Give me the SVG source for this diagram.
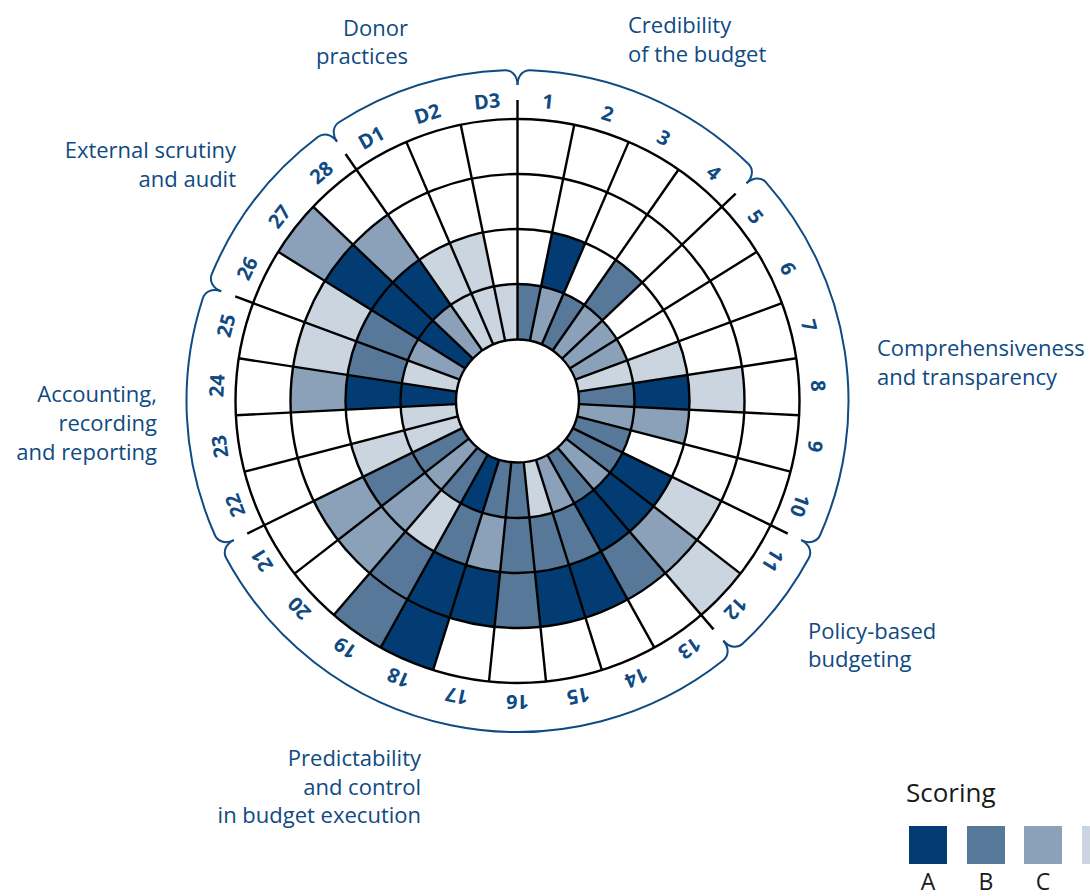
<svg xmlns="http://www.w3.org/2000/svg" xmlns:xlink="http://www.w3.org/1999/xlink" width="1090" height="896" viewBox="0 0 1090 896">
<style>
.a{fill:#023c72}.b{fill:#587899}.c{fill:#8aa1b9}.d{fill:#cad5e0}
.ring{fill:none;stroke:#000;stroke-width:2.4}
.sp{stroke:#000;stroke-width:2.4}
.num{font-family:"Open Sans",sans-serif;font-weight:700;font-size:20px;fill:#0f4a82;text-anchor:middle}
.grp{font-family:"Open Sans",sans-serif;font-size:22px;fill:#0f4a82}
.br{fill:none;stroke:#0f4a82;stroke-width:2}
.leg{font-family:"Open Sans",sans-serif;font-size:26px;fill:#1a1a1a}
.legl{font-family:"Open Sans",sans-serif;font-size:23px;fill:#1a1a1a;text-anchor:middle}
</style>
<defs>
<path id="r1" d="M0,-117 A117,117 0 0 1 23.547,-114.606 L12.377,-60.242 A61.5,61.5 0 0 0 0,-61.5 Z"/>
<path id="r2" d="M0,-172 A172,172 0 0 1 34.617,-168.481 L23.547,-114.606 A117,117 0 0 0 0,-117 Z"/>
<path id="r3" d="M0,-227 A227,227 0 0 1 45.686,-222.356 L34.617,-168.481 A172,172 0 0 0 0,-172 Z"/>
<path id="r4" d="M0,-282 A282,282 0 0 1 56.755,-276.230 L45.686,-222.356 A227,227 0 0 0 0,-227 Z"/>
<line id="sp" class="sp" x1="0" y1="-61.5" x2="0" y2="-282"/>
<line id="spl" class="sp" x1="0" y1="-61.5" x2="0" y2="-301"/>
</defs>
<g id="chart" transform="translate(517.5,401)">
<g id="cells">
<use href="#r1" class="b" transform="rotate(0)"/>
<use href="#r1" class="c" transform="rotate(11.6129)"/><use href="#r2" class="a" transform="rotate(11.6129)"/>
<use href="#r1" class="b" transform="rotate(23.2258)"/>
<use href="#r1" class="c" transform="rotate(34.8387)"/><use href="#r2" class="b" transform="rotate(34.8387)"/>
<use href="#r1" class="c" transform="rotate(46.4516)"/>
<use href="#r1" class="c" transform="rotate(58.0645)"/>
<use href="#r1" class="d" transform="rotate(69.6774)"/><use href="#r2" class="d" transform="rotate(69.6774)"/>
<use href="#r1" class="b" transform="rotate(81.2903)"/><use href="#r2" class="a" transform="rotate(81.2903)"/><use href="#r3" class="d" transform="rotate(81.2903)"/>
<use href="#r1" class="c" transform="rotate(92.9032)"/><use href="#r2" class="c" transform="rotate(92.9032)"/>
<use href="#r1" class="b" transform="rotate(104.5161)"/>
<use href="#r1" class="b" transform="rotate(116.1290)"/><use href="#r2" class="a" transform="rotate(116.1290)"/><use href="#r3" class="d" transform="rotate(116.1290)"/>
<use href="#r1" class="c" transform="rotate(127.7419)"/><use href="#r2" class="a" transform="rotate(127.7419)"/><use href="#r3" class="c" transform="rotate(127.7419)"/><use href="#r4" class="d" transform="rotate(127.7419)"/>
<use href="#r1" class="b" transform="rotate(139.3548)"/><use href="#r2" class="a" transform="rotate(139.3548)"/><use href="#r3" class="b" transform="rotate(139.3548)"/>
<use href="#r1" class="c" transform="rotate(150.9677)"/><use href="#r2" class="b" transform="rotate(150.9677)"/><use href="#r3" class="a" transform="rotate(150.9677)"/>
<use href="#r1" class="d" transform="rotate(162.5806)"/><use href="#r2" class="b" transform="rotate(162.5806)"/><use href="#r3" class="a" transform="rotate(162.5806)"/>
<use href="#r1" class="b" transform="rotate(174.1935)"/><use href="#r2" class="b" transform="rotate(174.1935)"/><use href="#r3" class="b" transform="rotate(174.1935)"/>
<use href="#r1" class="b" transform="rotate(185.8065)"/><use href="#r2" class="c" transform="rotate(185.8065)"/><use href="#r3" class="a" transform="rotate(185.8065)"/>
<use href="#r1" class="a" transform="rotate(197.4194)"/><use href="#r2" class="b" transform="rotate(197.4194)"/><use href="#r3" class="a" transform="rotate(197.4194)"/><use href="#r4" class="a" transform="rotate(197.4194)"/>
<use href="#r1" class="b" transform="rotate(209.0323)"/><use href="#r2" class="d" transform="rotate(209.0323)"/><use href="#r3" class="b" transform="rotate(209.0323)"/><use href="#r4" class="b" transform="rotate(209.0323)"/>
<use href="#r1" class="c" transform="rotate(220.6452)"/><use href="#r2" class="c" transform="rotate(220.6452)"/><use href="#r3" class="c" transform="rotate(220.6452)"/>
<use href="#r1" class="b" transform="rotate(232.2581)"/><use href="#r2" class="b" transform="rotate(232.2581)"/><use href="#r3" class="c" transform="rotate(232.2581)"/>
<use href="#r1" class="d" transform="rotate(243.8710)"/><use href="#r2" class="d" transform="rotate(243.8710)"/>
<use href="#r1" class="d" transform="rotate(255.4839)"/>
<use href="#r1" class="a" transform="rotate(267.0968)"/><use href="#r2" class="a" transform="rotate(267.0968)"/><use href="#r3" class="c" transform="rotate(267.0968)"/>
<use href="#r1" class="d" transform="rotate(278.7097)"/><use href="#r2" class="b" transform="rotate(278.7097)"/><use href="#r3" class="d" transform="rotate(278.7097)"/>
<use href="#r1" class="c" transform="rotate(290.3226)"/><use href="#r2" class="b" transform="rotate(290.3226)"/><use href="#r3" class="d" transform="rotate(290.3226)"/>
<use href="#r1" class="a" transform="rotate(301.9355)"/><use href="#r2" class="a" transform="rotate(301.9355)"/><use href="#r3" class="a" transform="rotate(301.9355)"/><use href="#r4" class="c" transform="rotate(301.9355)"/>
<use href="#r1" class="c" transform="rotate(313.5484)"/><use href="#r2" class="a" transform="rotate(313.5484)"/><use href="#r3" class="c" transform="rotate(313.5484)"/>
<use href="#r1" class="d" transform="rotate(325.1613)"/><use href="#r2" class="d" transform="rotate(325.1613)"/>
<use href="#r1" class="d" transform="rotate(336.7742)"/><use href="#r2" class="d" transform="rotate(336.7742)"/>
<use href="#r1" class="d" transform="rotate(348.3871)"/>
</g>
<g id="grid">
<circle class="ring" r="117"/><circle class="ring" r="172"/><circle class="ring" r="227"/><circle class="ring" r="282"/>
<use href="#spl" transform="rotate(0)"/><use href="#sp" transform="rotate(11.6129)"/><use href="#sp" transform="rotate(23.2258)"/><use href="#sp" transform="rotate(34.8387)"/>
<use href="#spl" transform="rotate(46.4516)"/><use href="#sp" transform="rotate(58.0645)"/><use href="#sp" transform="rotate(69.6774)"/><use href="#sp" transform="rotate(81.2903)"/>
<use href="#sp" transform="rotate(92.9032)"/><use href="#sp" transform="rotate(104.5161)"/><use href="#spl" transform="rotate(116.1290)"/><use href="#sp" transform="rotate(127.7419)"/>
<use href="#spl" transform="rotate(139.3548)"/><use href="#sp" transform="rotate(150.9677)"/><use href="#sp" transform="rotate(162.5806)"/><use href="#sp" transform="rotate(174.1935)"/>
<use href="#sp" transform="rotate(185.8065)"/><use href="#sp" transform="rotate(197.4194)"/><use href="#sp" transform="rotate(209.0323)"/><use href="#sp" transform="rotate(220.6452)"/>
<use href="#sp" transform="rotate(232.2581)"/><use href="#spl" transform="rotate(243.8710)"/><use href="#sp" transform="rotate(255.4839)"/><use href="#sp" transform="rotate(267.0968)"/>
<use href="#sp" transform="rotate(278.7097)"/><use href="#spl" transform="rotate(290.3226)"/><use href="#sp" transform="rotate(301.9355)"/><use href="#sp" transform="rotate(313.5484)"/>
<use href="#spl" transform="rotate(325.1613)"/><use href="#sp" transform="rotate(336.7742)"/><use href="#sp" transform="rotate(348.3871)"/>
<circle r="61.5" fill="#fff" stroke="#000" stroke-width="2.4"/>
</g>
<g id="numbers">
<text class="num" y="-294" transform="rotate(5.806)">1</text>
<text class="num" y="-294" transform="rotate(17.419)">2</text>
<text class="num" y="-294" transform="rotate(29.032)">3</text>
<text class="num" y="-294" transform="rotate(40.645)">4</text>
<text class="num" y="-294" transform="rotate(52.258)">5</text>
<text class="num" y="-294" transform="rotate(63.871)">6</text>
<text class="num" y="-294" transform="rotate(75.484)">7</text>
<text class="num" y="-294" transform="rotate(87.097)">8</text>
<text class="num" y="-294" transform="rotate(98.710)">9</text>
<text class="num" y="-294" transform="rotate(110.323)">10</text>
<text class="num" y="-294" transform="rotate(121.935)">11</text>
<text class="num" y="-294" transform="rotate(133.548)">12</text>
<text class="num" y="-294" transform="rotate(145.161)">13</text>
<text class="num" y="-294" transform="rotate(156.774)">14</text>
<text class="num" y="-294" transform="rotate(168.387)">15</text>
<text class="num" y="-294" transform="rotate(180)">16</text>
<text class="num" y="-294" transform="rotate(191.613)">17</text>
<text class="num" y="-294" transform="rotate(203.226)">18</text>
<text class="num" y="-294" transform="rotate(214.839)">19</text>
<text class="num" y="-294" transform="rotate(226.452)">20</text>
<text class="num" y="-294" transform="rotate(238.065)">21</text>
<text class="num" y="-294" transform="rotate(249.677)">22</text>
<text class="num" y="-294" transform="rotate(261.290)">23</text>
<text class="num" y="-294" transform="rotate(272.903)">24</text>
<text class="num" y="-294" transform="rotate(284.516)">25</text>
<text class="num" y="-294" transform="rotate(296.129)">26</text>
<text class="num" y="-294" transform="rotate(307.742)">27</text>
<text class="num" y="-294" transform="rotate(319.355)">28</text>
<text class="num" y="-294" transform="rotate(330.968)">D1</text>
<text class="num" y="-294" transform="rotate(342.581)">D2</text>
<text class="num" y="-294" transform="rotate(354.194)">D3</text>
</g>
<g id="brackets">
<path id="br-cred" class="br" transform="rotate(0)" d="M0,-316 C0,-326 6.354,-330.939 12.707,-330.755 A331,331 0 0 1 230.98,-237.09 C235.49,-232.61 236.28,-224.60 229.03,-217.71"/>
<path id="br-comp" class="br" transform="rotate(46.4516)" d="M0,-316 C0,-326 6.354,-330.939 12.707,-330.755 A331,331 0 0 1 305.75,-126.79 C308.13,-120.89 305.71,-113.22 296.33,-109.74"/>
<path id="br-pol" class="br" transform="rotate(116.1290)" d="M0,-316 C0,-326 6.354,-330.939 12.707,-330.755 A331,331 0 0 1 118.76,-308.96 C124.67,-306.63 128.56,-299.58 124.62,-290.39"/>
<path id="br-pred" class="br" transform="rotate(139.3548)" d="M0,-316 C0,-326 6.354,-330.939 12.707,-330.755 A331,331 0 0 1 323.38,70.61 C321.97,76.80 315.59,81.71 305.91,79.21"/>
<path id="br-acc" class="br" transform="rotate(243.8710)" d="M0,-316 C0,-326 6.354,-330.939 12.707,-330.755 A331,331 0 0 1 230.98,-237.09 C235.49,-232.61 236.28,-224.60 229.03,-217.71"/>
<path id="br-ext" class="br" transform="rotate(290.3226)" d="M0,-316 C0,-326 6.354,-330.939 12.707,-330.755 A331,331 0 0 1 178.52,-278.73 C183.84,-275.25 186.24,-267.56 180.53,-259.36"/>
<path id="br-don" class="br" transform="rotate(325.1613)" d="M0,-316 C0,-326 6.354,-330.939 12.707,-330.755 A331,331 0 0 1 178.52,-278.73 C183.84,-275.25 186.24,-267.56 180.53,-259.36"/>
</g>
</g>
<g id="group-labels">
<g id="lbl-donor"><text class="grp" x="408" y="36" text-anchor="end">Donor</text><text class="grp" x="408" y="64" text-anchor="end">practices</text></g>
<g id="lbl-cred"><text class="grp" x="628" y="33">Credibility</text><text class="grp" x="628" y="62">of the budget</text></g>
<g id="lbl-comp"><text class="grp" x="877" y="356">Comprehensiveness</text><text class="grp" x="877" y="385">and transparency</text></g>
<g id="lbl-pol"><text class="grp" x="808" y="639">Policy-based</text><text class="grp" x="808" y="667">budgeting</text></g>
<g id="lbl-pred"><text class="grp" x="421" y="766" text-anchor="end">Predictability</text><text class="grp" x="421" y="795" text-anchor="end">and control</text><text class="grp" x="421" y="823" text-anchor="end">in budget execution</text></g>
<g id="lbl-acc"><text class="grp" x="157" y="402" text-anchor="end">Accounting,</text><text class="grp" x="157" y="431" text-anchor="end">recording</text><text class="grp" x="157" y="460" text-anchor="end">and reporting</text></g>
<g id="lbl-ext"><text class="grp" x="236" y="158" text-anchor="end">External scrutiny</text><text class="grp" x="236" y="187" text-anchor="end">and audit</text></g>
</g>
<g id="legend">
<text class="leg" x="906" y="802">Scoring</text>
<rect class="a" x="909" y="826" width="38" height="38"/>
<rect class="b" x="967" y="826" width="38" height="38"/>
<rect class="c" x="1024" y="826" width="38" height="38"/>
<rect class="d" x="1082" y="826" width="38" height="38"/>
<text class="legl" x="928" y="890">A</text>
<text class="legl" x="986" y="890">B</text>
<text class="legl" x="1043" y="890">C</text>
</g>
</svg>
